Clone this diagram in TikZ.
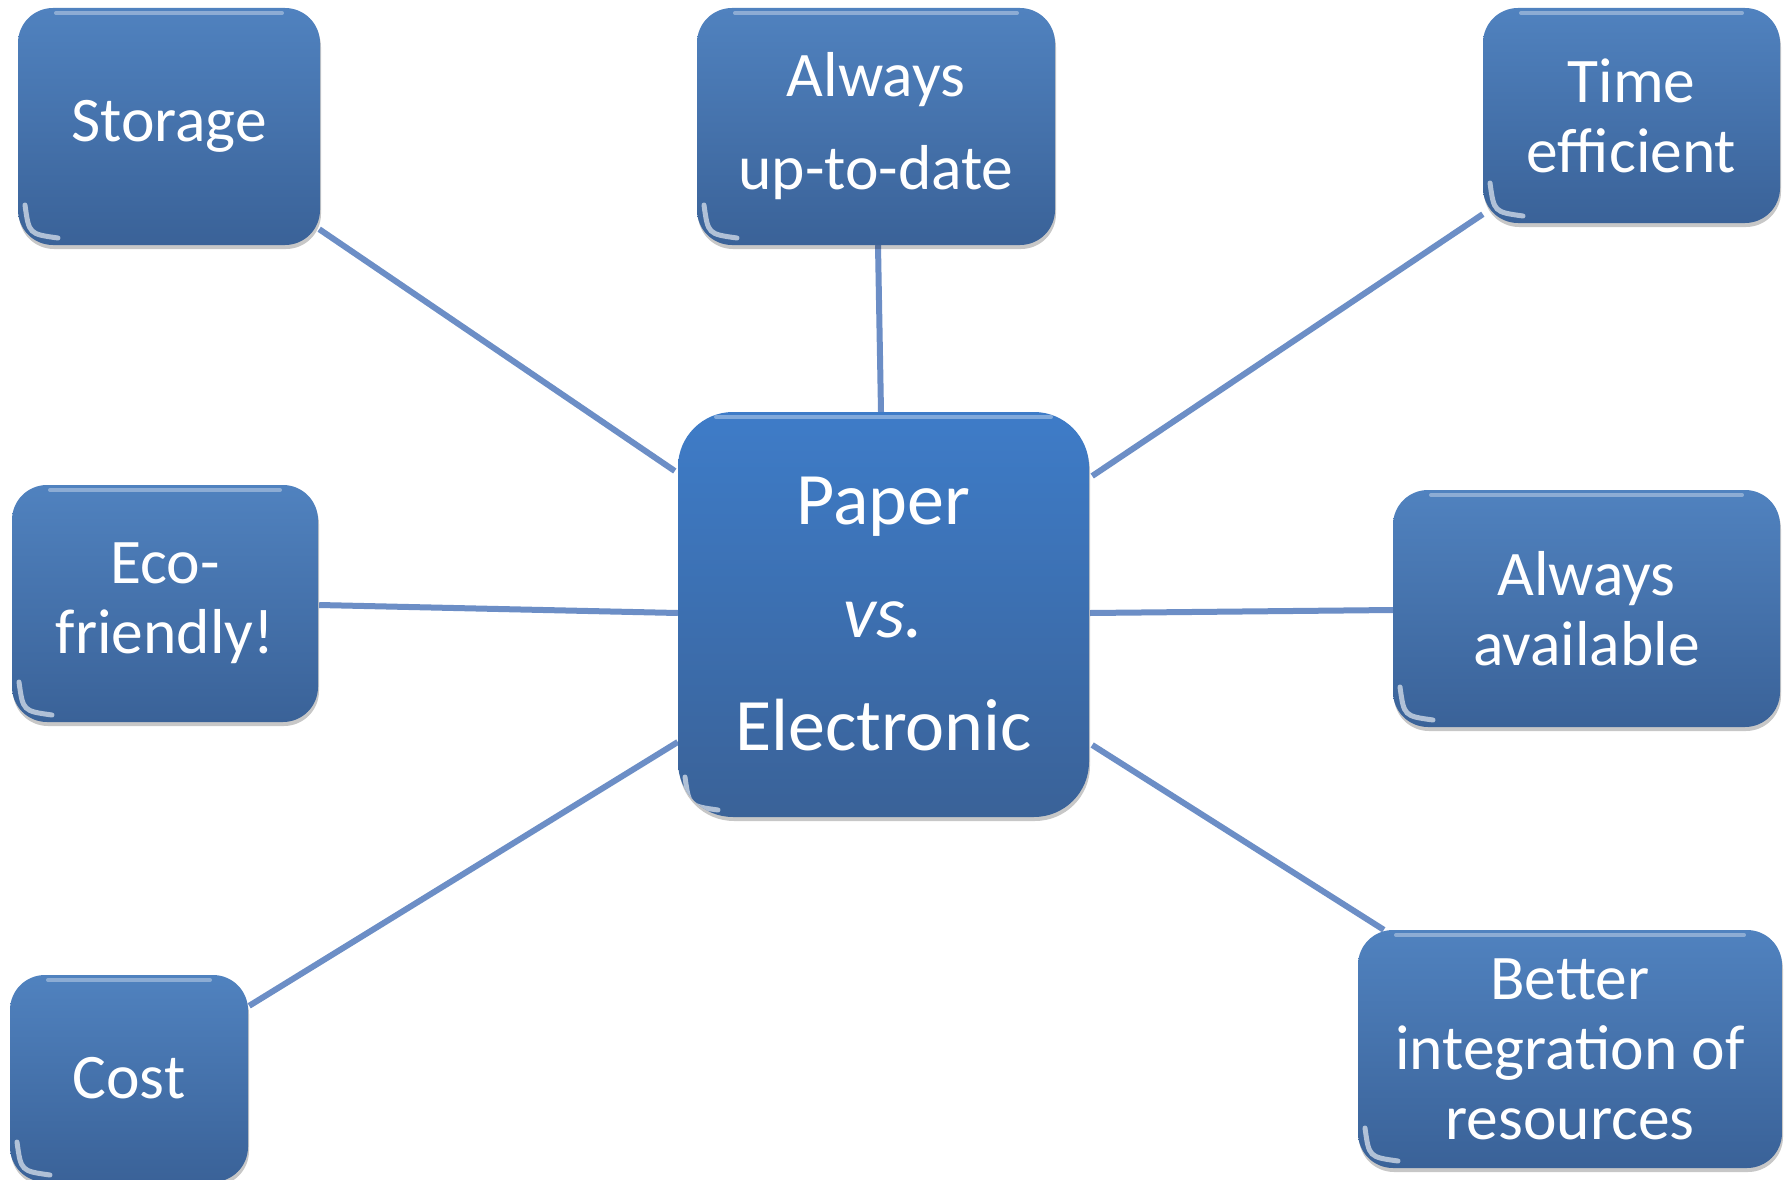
\documentclass[tikz,border=0pt]{standalone}
\usepackage{fontspec}
\setmainfont{Carlito}
\usetikzlibrary{calc,backgrounds,shadows}
\definecolor{boxtop}{RGB}{80,130,191}
\definecolor{boxbot}{RGB}{58,98,152}
\definecolor{ctrtop}{RGB}{62,124,200}
\definecolor{ctrbot}{RGB}{58,98,152}
\definecolor{linkc}{RGB}{108,142,198}
\begin{document}
\begin{tikzpicture}[x=1pt,y=-1pt,
  box/.style={rounded corners=35pt, top color=boxtop, bottom color=boxbot,
    text=white, align=center, inner sep=0pt,
    font=\fontsize{63.5}{70}\selectfont,
    drop shadow={shadow xshift=1pt,shadow yshift=-4pt,opacity=0.22,fill=black},
    path picture={
      \draw[white,opacity=0.35,line width=4pt,line cap=round]
        ([shift={(38,5)}]path picture bounding box.north west) --
        ([shift={(-38,5)}]path picture bounding box.north east);
      \draw[white,opacity=0.6,line width=5pt,line cap=round]
        ([shift={(7,-40)}]path picture bounding box.south west) .. controls
        ([shift={(11,-11)}]path picture bounding box.south west) ..
        ([shift={(40,-7)}]path picture bounding box.south west);
    }},
  hub/.style={box, rounded corners=55pt, top color=ctrtop, bottom color=ctrbot,
    font=\fontsize{74}{113}\selectfont},
  link/.style={draw=linkc, line width=6pt}]

\useasboundingbox (0,0) rectangle (1789,1180);

\node[box, minimum width=302pt, minimum height=237pt] (storage) at (169,126.5) {Storage};
\node[box, minimum width=358pt, minimum height=237pt, font=\fontsize{63.5}{93}\selectfont] (uptodate) at (876,126.5) {Always\\up-to-date};
\node[box, minimum width=297pt, minimum height=215pt] (time) at (1631.5,115.5) {Time\\efficient};
\node[hub, minimum width=411pt, minimum height=405pt] (center) at (883.5,614.5) {Paper\\\textit{vs.}\\Electronic};
\node[box, minimum width=306pt, minimum height=237pt] (eco) at (165,603.5) {Eco-\\friendly!};
\node[box, minimum width=387pt, minimum height=237pt] (avail) at (1586.5,608.5) {Always\\available};
\node[box, minimum width=238pt, minimum height=207pt] (cost) at (129,1078.5) {Cost};
\node[box, minimum width=424pt, minimum height=238pt] (better) at (1570,1049) {Better\\integration of\\resources};

\begin{pgfonlayer}{background}
\fill[white] (0,0) rectangle (1789,1180);
\draw[link] ([shift={(-1,-16)}]storage.south east) -- ([shift={(-3,-143.5)}]center.west);
\draw[link] ([shift={(2,0)}]uptodate.south) -- ([shift={(-2.5,0)}]center.north);
\draw[link] ([shift={(0,-9)}]time.south west) -- ([shift={(3,-138.5)}]center.east);
\draw[link] ([shift={(1,1.5)}]eco.east) -- ([shift={(0,-1.5)}]center.west);
\draw[link] ([shift={(1,1.5)}]avail.west) -- ([shift={(1,-1.5)}]center.east);
\draw[link] ([shift={(1,31)}]cost.north east) -- ([shift={(0,127.5)}]center.west);
\draw[link] ([shift={(26,0)}]better.north west) -- ([shift={(3,130.5)}]center.east);
\end{pgfonlayer}
\end{tikzpicture}
\end{document}
